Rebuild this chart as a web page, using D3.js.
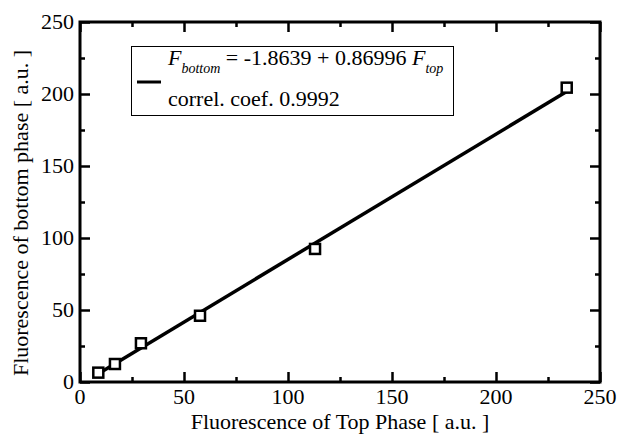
<!DOCTYPE html>
<html>
<head>
<meta charset="utf-8">
<script src="https://cdn.jsdelivr.net/npm/d3@7"></script>
<style>
    body { margin: 0; background: #fff; }
    svg { display: block; }
</style>
</head>
<body>
<svg id="chart"></svg>
<script>
    // data
    let topPhase = [8.8, 16.8, 29.3, 57.7, 113, 234];
    let bottomPhase = [6.5, 12.5, 26.9, 46, 92.4, 204.4];
    let fitA = -1.8639, fitB = 0.86996;
    let xTicks = [0, 50, 100, 150, 200, 250];
    let yTicks = [0, 50, 100, 150, 200, 250];

    let W = 618, H = 434;
    let m = {left: 80, right: 18, top: 22, bottom: 52};

    let svg = d3.select("#chart").attr("width", W).attr("height", H);

    let x = d3.scaleLinear().domain([0, 250]).range([m.left, W - m.right]);
    let y = d3.scaleLinear().domain([0, 250]).range([H - m.bottom, m.top]);

    // ticks drawn inward on all four sides
    let minor = d3.range(25, 250, 50);
    function tickSet(axis, vals, len) {
        return axis.tickValues(vals).tickSize(len).tickFormat("");
    }
    let g = svg.append("g");
    g.append("g").attr("transform", `translate(0,${y(0)})`).call(tickSet(d3.axisTop(x), xTicks, 10));
    g.append("g").attr("transform", `translate(0,${y(0)})`).call(tickSet(d3.axisTop(x), minor, 5));
    g.append("g").attr("transform", `translate(0,${y(250)})`).call(tickSet(d3.axisBottom(x), xTicks, 10));
    g.append("g").attr("transform", `translate(0,${y(250)})`).call(tickSet(d3.axisBottom(x), minor, 5));
    g.append("g").attr("transform", `translate(${x(0)},0)`).call(tickSet(d3.axisRight(y), yTicks, 10));
    g.append("g").attr("transform", `translate(${x(0)},0)`).call(tickSet(d3.axisRight(y), minor, 5));
    g.append("g").attr("transform", `translate(${x(250)},0)`).call(tickSet(d3.axisLeft(y), yTicks, 10));
    g.append("g").attr("transform", `translate(${x(250)},0)`).call(tickSet(d3.axisLeft(y), minor, 5));
    g.selectAll(".domain").remove();
    g.selectAll(".tick line").attr("stroke", "#000").attr("stroke-width", 2.5);

    // frame
    svg.append("rect")
        .attr("x", x(0)).attr("y", y(250))
        .attr("width", x(250) - x(0)).attr("height", y(0) - y(250))
        .attr("fill", "none").attr("stroke", "#000").attr("stroke-width", 3);

    function label(sel, size) {
        return sel.style("font-family", "'Liberation Serif'").style("font-size", (size || 22) + "px").attr("fill", "#000");
    }

    // tick labels
    label(svg.selectAll(".xl").data(xTicks).enter().append("text"))
        .attr("x", d => x(d)).attr("y", y(0) + 22)
        .attr("text-anchor", "middle")
        .text(d => d);
    label(svg.selectAll(".yl").data(yTicks).enter().append("text"))
        .attr("x", x(0) - 6).attr("y", d => y(d) + 7)
        .attr("text-anchor", "end")
        .text(d => d);

    // axis titles
    label(svg.append("text"))
        .attr("x", x(125)).attr("y", 429)
        .attr("text-anchor", "middle")
        .text("Fluorescence of Top Phase [ a.u. ]");
    label(svg.append("text"))
        .attr("transform", `translate(28,213) rotate(-90)`)
        .attr("text-anchor", "middle")
        .text("Fluorescence of bottom phase [ a.u. ]");

    // fit line
    let xs = d3.extent(topPhase);
    svg.append("line")
        .attr("x1", x(xs[0])).attr("y1", y(fitA + fitB * xs[0]))
        .attr("x2", x(xs[1])).attr("y2", y(fitA + fitB * xs[1]))
        .attr("stroke", "#000").attr("stroke-width", 3.5);

    // square markers
    svg.selectAll(".pt").data(topPhase).enter().append("rect")
        .attr("x", (d, i) => x(d) - 5).attr("y", (d, i) => y(bottomPhase[i]) - 5)
        .attr("width", 10).attr("height", 10)
        .attr("fill", "#fff").attr("stroke", "#000").attr("stroke-width", 2.5);

    // legend
    let lg = svg.append("g");
    lg.append("rect").attr("x", 131.5).attr("y", 46.5).attr("width", 322).attr("height", 69)
        .attr("fill", "#fff").attr("stroke", "#000").attr("stroke-width", 1);
    lg.append("line").attr("x1", 137).attr("x2", 161).attr("y1", 82).attr("y2", 82)
        .attr("stroke", "#000").attr("stroke-width", 3);
    let t1 = label(lg.append("text")).attr("x", 168).attr("y", 65);
    t1.append("tspan").style("font-style", "italic").text("F");
    t1.append("tspan").attr("dy", 8).style("font-style", "italic").style("font-size", "14px").text("bottom");
    t1.append("tspan").attr("dy", -8).text(" = -1.8639 + 0.86996 ");
    t1.append("tspan").style("font-style", "italic").text("F");
    t1.append("tspan").attr("dy", 8).style("font-style", "italic").style("font-size", "14px").text("top");
    label(lg.append("text")).attr("x", 168).attr("y", 106)
        .text("correl. coef. 0.9992");
</script>
</body>
</html>
